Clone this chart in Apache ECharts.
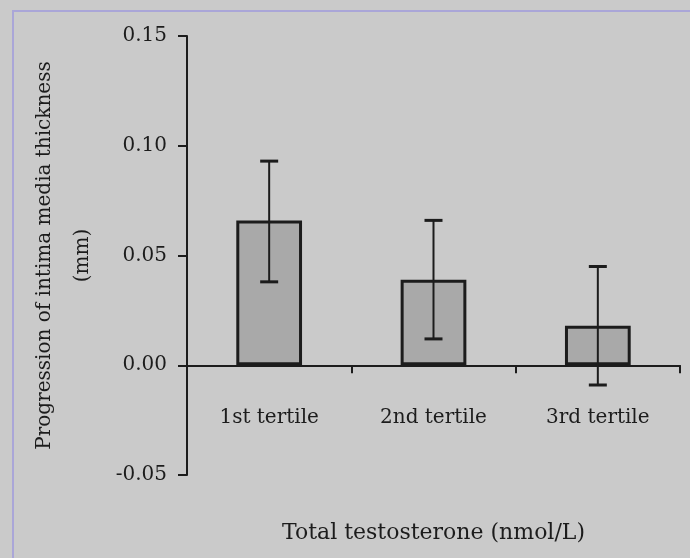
<!DOCTYPE html>
<html>
<head>
<meta charset="utf-8">
<title>Progression of intima media thickness by testosterone tertile</title>
<script src="https://cdn.jsdelivr.net/npm/echarts@6/dist/echarts.min.js"></script>
<style>
  html, body { margin: 0; padding: 0; background: #cacaca; }
  #chart { width: 690px; height: 558px; }
</style>
</head>
<body>
<div id="chart"></div>
<script>
// Tertiles of total testosterone
const categories = ['1st tertile', '2nd tertile', '3rd tertile'];
// Mean progression of intima media thickness (mm)
const means = [0.066, 0.039, 0.018];
// Error bar limits (mm)
const upper = [0.093, 0.066, 0.045];
const lower = [0.038, 0.012, -0.009];
// Value axis range and step
const yMin = -0.05;
const yMax = 0.15;
const yStep = 0.05;

const ink = '#1c1c1c';
const font = 'DejaVu Serif';

const chart = echarts.init(document.getElementById('chart'));

chart.setOption({
  backgroundColor: '#cacaca',
  animation: false,
  graphic: [{
    type: 'rect',
    shape: { x: 13, y: 11, width: 700, height: 600 },
    style: { fill: 'none', stroke: '#aaa6d8', lineWidth: 2 },
    silent: true
  }],
  grid: { left: 187, right: 10, top: 36, bottom: 83, containLabel: false, outerBoundsMode: 'none' },
  xAxis: {
    type: 'category',
    data: categories,
    axisLine: { onZero: true, lineStyle: { color: ink, width: 2 } },
    axisTick: { show: true, inside: false, length: 8, alignWithLabel: false, lineStyle: { color: ink, width: 2 } },
    // labels sit just under the zero line, above the bottom of the plot
    axisLabel: { color: ink, fontFamily: font, fontSize: 20, margin: -67 },
    splitLine: { show: false },
    name: 'Total testosterone (nmol/L)',
    nameLocation: 'middle',
    nameGap: 47,
    nameTextStyle: { color: ink, fontFamily: font, fontSize: 22 }
  },
  yAxis: {
    type: 'value',
    min: yMin,
    max: yMax,
    interval: yStep,
    axisLine: { show: true, lineStyle: { color: ink, width: 2 } },
    axisTick: { show: true, inside: false, length: 9, lineStyle: { color: ink, width: 2 } },
    axisLabel: {
      color: ink, fontFamily: font, fontSize: 20, margin: 20,
      formatter: v => v.toFixed(2)
    },
    splitLine: { show: false },
    name: 'Progression of intima media thickness\n(mm)',
    nameLocation: 'middle',
    nameRotate: 90,
    nameGap: 85,
    nameTextStyle: { color: ink, fontFamily: font, fontSize: 20, lineHeight: 38, align: 'center' }
  },
  series: [
    {
      type: 'bar',
      data: means,
      barWidth: '40%',
      itemStyle: { color: '#a9a9a9', borderColor: ink, borderWidth: 3 },
      z: 2
    },
    {
      type: 'custom',
      data: categories.map((c, i) => [i, lower[i], upper[i]]),
      encode: { x: 0, y: [1, 2] },
      z: 3,
      renderItem: function (params, api) {
        const i = api.value(0);
        const lo = api.coord([i, api.value(1)]);
        const hi = api.coord([i, api.value(2)]);
        const half = 9;
        const stroke = { stroke: ink, lineWidth: 2 };
        const cap = { stroke: ink, lineWidth: 3 };
        return {
          type: 'group',
          children: [
            { type: 'line', shape: { x1: lo[0], y1: lo[1], x2: hi[0], y2: hi[1] }, style: stroke },
            { type: 'line', shape: { x1: hi[0] - half, y1: hi[1], x2: hi[0] + half, y2: hi[1] }, style: cap },
            { type: 'line', shape: { x1: lo[0] - half, y1: lo[1], x2: lo[0] + half, y2: lo[1] }, style: cap }
          ]
        };
      }
    }
  ]
});
</script>
</body>
</html>
